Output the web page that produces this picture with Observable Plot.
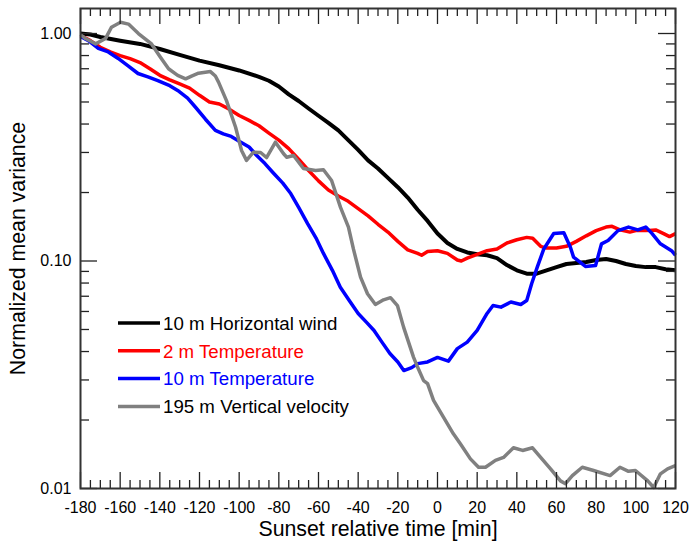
<!DOCTYPE html>
<html>
<head>
<meta charset="utf-8">
<script src="https://cdn.jsdelivr.net/npm/d3@7"></script>
<script src="https://cdn.jsdelivr.net/npm/@observablehq/plot@0.6"></script>
<style>
  html, body { margin: 0; padding: 0; background: #fff; }
</style>
</head>
<body>
<div id="chart"></div>
<script>
// ---- Data ----
const seriesNames = ["10 m Horizontal wind", "2 m Temperature", "10 m Temperature", "195 m Vertical velocity"];
const seriesColors = ["#000000", "#ff0000", "#0000ff", "#808080"];
const legendTextColors = ["#000000", "#ff0000", "#0000ff", "#000000"];

const xTicks = [-180, -160, -140, -120, -100, -80, -60, -40, -20, 0, 20, 40, 60, 80, 100, 120];
const yTicks = [0.01, 0.1, 1];
const yMinorTicks = [0.02, 0.03, 0.04, 0.05, 0.06, 0.07, 0.08, 0.09, 0.2, 0.3, 0.4, 0.5, 0.6, 0.7, 0.8, 0.9];

const xTitle = "Sunset relative time [min]";
const yTitle = "Normalized mean variance";

const windT = [-180, -175, -170, -160, -150, -140, -130, -120, -110, -100, -90, -85, -80, -75, -70, -65, -60, -55, -50, -45, -40, -35, -30, -25, -20, -15, -10, -5, 0, 5, 10, 15, 20, 25, 30, 35, 40, 45, 50, 55, 60, 65, 70, 75, 80, 85, 90, 95, 100, 105, 110, 115, 120];
const windV = [1.00, 0.99, 0.965, 0.93, 0.90, 0.855, 0.805, 0.76, 0.725, 0.688, 0.645, 0.62, 0.585, 0.54, 0.505, 0.468, 0.435, 0.405, 0.375, 0.34, 0.308, 0.277, 0.255, 0.232, 0.211, 0.19, 0.168, 0.15, 0.132, 0.12, 0.113, 0.109, 0.107, 0.106, 0.103, 0.096, 0.091, 0.088, 0.088, 0.091, 0.094, 0.097, 0.098, 0.099, 0.101, 0.102, 0.100, 0.097, 0.095, 0.094, 0.094, 0.092, 0.091];

const temp2T = [-180, -175, -170, -165, -160, -155, -150, -145, -140, -135, -130, -125, -120, -115, -110, -105, -100, -95, -90, -85, -80, -75, -70, -65, -60, -55, -50, -45, -40, -35, -30, -25, -20, -15, -10, -8, -5, 0, 5, 10, 12, 15, 20, 25, 30, 35, 40, 45, 48, 52, 55, 60, 65, 70, 75, 80, 85, 88, 92, 97, 100, 105, 110, 114, 117, 120];
const temp2V = [0.98, 0.93, 0.87, 0.83, 0.80, 0.775, 0.745, 0.70, 0.655, 0.625, 0.60, 0.575, 0.535, 0.50, 0.49, 0.465, 0.436, 0.415, 0.393, 0.365, 0.34, 0.312, 0.28, 0.25, 0.225, 0.205, 0.193, 0.183, 0.17, 0.158, 0.145, 0.134, 0.122, 0.112, 0.108, 0.106, 0.11, 0.111, 0.108, 0.101, 0.100, 0.103, 0.107, 0.111, 0.113, 0.12, 0.124, 0.127, 0.126, 0.116, 0.114, 0.114, 0.116, 0.122, 0.129, 0.136, 0.141, 0.142, 0.137, 0.134, 0.136, 0.136, 0.137, 0.132, 0.128, 0.132];

const temp10T = [-180, -176, -171, -166, -161, -156, -151, -146, -141, -135, -131, -126, -122, -117, -112, -108, -104, -100, -95, -91, -87, -83, -78, -74, -70, -65.5, -61, -57.5, -53, -49, -44.5, -40, -36, -32, -28, -24, -20, -17, -13, -10, -5, 0, 5.5, 10, 15, 20, 25, 28, 32, 37, 42, 45, 47.5, 50.3, 53.6, 58.6, 63.7, 67, 68.6, 74.6, 79.7, 82.7, 86, 91, 96.3, 101, 105, 108, 112.4, 118, 120];
const temp10V = [0.97, 0.93, 0.86, 0.83, 0.777, 0.72, 0.667, 0.645, 0.621, 0.59, 0.562, 0.52, 0.474, 0.42, 0.375, 0.362, 0.353, 0.336, 0.317, 0.29, 0.268, 0.245, 0.22, 0.198, 0.172, 0.146, 0.125, 0.108, 0.091, 0.0767, 0.067, 0.0588, 0.054, 0.0495, 0.044, 0.0392, 0.036, 0.033, 0.034, 0.0354, 0.036, 0.0377, 0.0363, 0.0412, 0.044, 0.0495, 0.0588, 0.0637, 0.0627, 0.066, 0.0644, 0.067, 0.0796, 0.094, 0.113, 0.132, 0.133, 0.115, 0.104, 0.0946, 0.0955, 0.119, 0.123, 0.136, 0.141, 0.137, 0.141, 0.1326, 0.119, 0.111, 0.106];

const vertT = [-180, -177.5, -172.4, -167.4, -164.4, -159.8, -155.8, -150.8, -144.2, -139.7, -135.6, -131, -127, -124, -120.5, -114.5, -112, -110.4, -106.4, -101.8, -98.8, -96.3, -92.8, -89.2, -86.2, -81.7, -77.6, -76, -72.6, -67.6, -61.5, -57.5, -53.4, -48.9, -44.9, -42.4, -38.8, -35.3, -31.3, -27.2, -23.7, -20.2, -17.1, -12.1, -10, -7, -5, -2, 3, 8, 11.6, 16.6, 20.7, 24.2, 29.2, 33.3, 38.3, 42.9, 47.9, 52, 57, 62, 64.5, 68, 73, 78.7, 87, 92, 96.3, 99.8, 106, 109, 112.4, 116, 119, 120];
const vertV = [0.99, 0.95, 0.90, 0.95, 1.066, 1.12, 1.10, 1.0, 0.90, 0.787, 0.70, 0.655, 0.632, 0.65, 0.669, 0.68, 0.65, 0.611, 0.507, 0.387, 0.306, 0.277, 0.301, 0.30, 0.285, 0.333, 0.296, 0.286, 0.291, 0.255, 0.25, 0.252, 0.226, 0.172, 0.141, 0.113, 0.0849, 0.0718, 0.0644, 0.0675, 0.069, 0.0637, 0.0512, 0.0378, 0.0341, 0.0298, 0.0289, 0.0244, 0.0206, 0.0174, 0.0157, 0.0135, 0.0124, 0.0124, 0.0133, 0.0137, 0.0151, 0.0147, 0.0151, 0.0137, 0.0122, 0.0108, 0.0105, 0.0114, 0.0124, 0.012, 0.0114, 0.0124, 0.0119, 0.012, 0.0108, 0.0101, 0.0116, 0.0122, 0.0125, 0.0126];

// ---- Build tables ----
const seriesT = [windT, temp2T, temp10T, vertT];
const seriesV = [windV, temp2V, temp10V, vertV];
const tables = seriesT.map((ts, i) => ts.map((t, j) => ({t, v: seriesV[i][j], s: seriesNames[i]})));

const xMinor = d3.range(-180, 121, 5).filter(d => d % 20 !== 0);

const W = 690, H = 550;
const mL = 80, mR = 15, mT = 8, mB = 62;
const innerW = W - mL - mR, innerH = H - mT - mB;
const tickColor = "#222";

const lineWidths = [4, 3.5, 3.5, 3.5];

const chart = Plot.plot({
  width: W,
  height: H,
  marginLeft: mL,
  marginRight: mR,
  marginTop: mT,
  marginBottom: mB,
  style: {
    fontFamily: "'Liberation Sans', Arial, Helvetica, sans-serif",
    fontSize: "16px",
    background: "#fff",
    color: "#000",
    overflow: "visible"
  },
  x: {
    domain: [-180, 120],
    ticks: xTicks,
    tickSize: 0,
    tickPadding: 13,
    tickFormat: d => String(d),
    label: null
  },
  y: {
    type: "log",
    domain: [0.01, 1.288],
    ticks: yTicks,
    tickSize: 0,
    tickPadding: 9,
    tickFormat: d => d.toFixed(2),
    label: null
  },
  marks: [
    // data lines
    ...tables.map((tb, i) => Plot.line(tb, {
      x: "t", y: "v",
      stroke: seriesColors[i],
      strokeWidth: lineWidths[i],
      strokeLinejoin: "round",
      strokeLinecap: "butt"
    })),
    // ticks (inward), bottom/top
    Plot.ruleX(xTicks, {stroke: tickColor, strokeWidth: 1.3, insetTop: innerH - 16}),
    Plot.ruleX(xMinor, {stroke: tickColor, strokeWidth: 1.3, insetTop: innerH - 8}),
    Plot.ruleX(xTicks, {stroke: tickColor, strokeWidth: 1.3, insetBottom: innerH - 16}),
    Plot.ruleX(xMinor, {stroke: tickColor, strokeWidth: 1.3, insetBottom: innerH - 8}),
    // ticks (inward), left/right
    Plot.ruleY(yTicks, {stroke: tickColor, strokeWidth: 1.3, insetRight: innerW - 17}),
    Plot.ruleY(yMinorTicks, {stroke: tickColor, strokeWidth: 1.3, insetRight: innerW - 9}),
    Plot.ruleY(yTicks, {stroke: tickColor, strokeWidth: 1.3, insetLeft: innerW - 17}),
    Plot.ruleY(yMinorTicks, {stroke: tickColor, strokeWidth: 1.3, insetLeft: innerW - 9}),
    Plot.frame({stroke: "#333", strokeWidth: 2}),
    // axis titles
    Plot.text([xTitle], {text: d => d, frameAnchor: "bottom", textAnchor: "middle", dy: 47, fontSize: 21.3, fill: "#000"}),
    Plot.text([yTitle], {text: d => d, frameAnchor: "left", textAnchor: "middle", dx: -62, rotate: -90, fontSize: 21.3, fill: "#000"})
  ]
});

document.getElementById("chart").appendChild(chart);

// ---- Legend inside the plot ----
const svg = d3.select(chart.tagName.toLowerCase() === "svg" ? chart : chart.querySelector("svg"));
const lg = svg.append("g")
  .attr("font-family", "'Liberation Sans', Arial, Helvetica, sans-serif")
  .attr("font-size", 18.7)
  .attr("text-anchor", "start");
seriesNames.forEach((name, i) => {
  const y = 323 + i * 27.8;
  lg.append("line")
    .attr("x1", 118).attr("x2", 160)
    .attr("y1", y).attr("y2", y)
    .attr("stroke", seriesColors[i])
    .attr("stroke-width", 3.5);
  lg.append("text")
    .attr("x", 163).attr("y", y)
    .attr("dy", "0.36em")
    .attr("text-anchor", "start")
    .attr("fill", legendTextColors[i])
    .text(name);
});
</script>
</body>
</html>
